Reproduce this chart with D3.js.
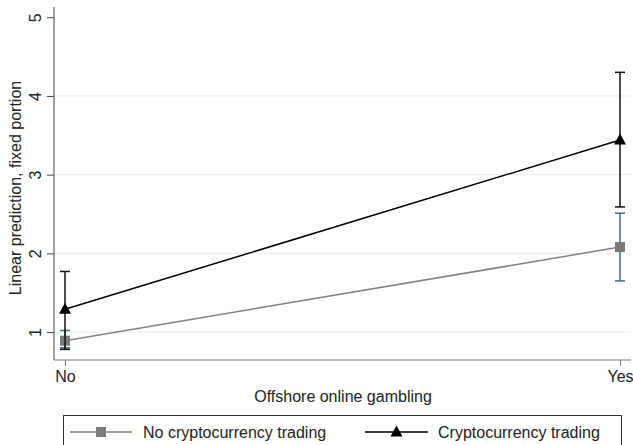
<!DOCTYPE html>
<html>
<head>
<meta charset="utf-8">
<script src="https://cdn.jsdelivr.net/npm/d3@7.9.0/dist/d3.min.js"></script>
<style>
  body { margin: 0; background: #fff; }
  text { font-family: "Liberation Sans", Arial, sans-serif; }
</style>
</head>
<body>
<svg id="chart" width="633" height="445"></svg>
<script>
const categories = ['No', 'Yes'];
const yTicks = [1, 2, 3, 4, 5];

const noCryptoMean = [0.89, 2.08];
const noCryptoLow = [0.80, 1.65];
const noCryptoHigh = [1.02, 2.51];

const cryptoMean = [1.29, 3.44];
const cryptoLow = [0.78, 2.59];
const cryptoHigh = [1.77, 4.30];

const series = [
  { name: 'No cryptocurrency trading', mean: noCryptoMean, low: noCryptoLow, high: noCryptoHigh,
    line: '#808080', ci: '#3f6a8a', marker: 'square', markerFill: '#7a7a7a' },
  { name: 'Cryptocurrency trading', mean: cryptoMean, low: cryptoLow, high: cryptoHigh,
    line: '#000', ci: '#111', marker: 'triangle', markerFill: '#000' }
];

const svg = d3.select('#chart');
const margin = { left: 54, right: 631, top: 7, bottom: 360 };

const x = d3.scalePoint()
  .domain(categories)
  .range([65, 620]);

const y = d3.scaleLinear()
  .domain([0.645, 5.13])
  .range([margin.bottom, margin.top]);

// gridlines
svg.append('g')
  .selectAll('line')
  .data(yTicks.slice(0, 4))
  .join('line')
  .attr('x1', margin.left)
  .attr('x2', margin.right)
  .attr('y1', d => y(d))
  .attr('y2', d => y(d))
  .attr('stroke', '#e4eff1')
  .attr('stroke-width', 1);

// y axis
const yAxis = svg.append('g')
  .attr('transform', `translate(${margin.left},0)`)
  .call(d3.axisLeft(y).tickValues(yTicks).tickSize(7).tickFormat(d3.format('d')));
yAxis.select('.domain').attr('stroke', '#444').attr('d', `M0,${margin.bottom}V${margin.top}`);
yAxis.selectAll('.tick line').attr('stroke', '#444');
yAxis.selectAll('.tick text')
  .style('font-size', '16px')
  .attr('fill', '#222')
  .attr('text-anchor', 'middle')
  .attr('x', 0)
  .attr('dy', null)
  .attr('y', 0)
  .attr('transform', 'translate(-13,0) rotate(-90)');

// x axis
const xAxis = svg.append('g')
  .attr('transform', `translate(0,${margin.bottom})`)
  .call(d3.axisBottom(x).tickSize(6).tickPadding(5));
xAxis.select('.domain').attr('stroke', '#777').attr('d', `M${margin.left},0H${margin.right}`);
xAxis.selectAll('.tick line').attr('stroke', '#777');
xAxis.selectAll('.tick text').style('font-size', '16px').attr('fill', '#222');

// axis titles
svg.append('text')
  .attr('x', 343)
  .attr('y', 402)
  .attr('text-anchor', 'middle')
  .attr('font-size', 16)
  .attr('fill', '#222')
  .text('Offshore online gambling');

svg.append('text')
  .attr('transform', 'translate(21,188) rotate(-90)')
  .attr('text-anchor', 'middle')
  .attr('font-size', 16)
  .attr('fill', '#222')
  .text('Linear prediction, fixed portion');

const line = d3.line()
  .x((d, i) => x(categories[i]))
  .y(d => y(d));

function drawMarker(g, type, cx, cy, fill) {
  if (type === 'square') {
    g.append('rect')
      .attr('x', cx - 5).attr('y', cy - 5)
      .attr('width', 10).attr('height', 10)
      .attr('fill', fill);
  } else {
    g.append('path')
      .attr('d', `M${cx},${cy - 6.5}L${cx + 6},${cy + 4.5}L${cx - 6},${cy + 4.5}Z`)
      .attr('fill', fill);
  }
}

series.forEach(s => {
  const g = svg.append('g');
  // connecting line
  g.append('path')
    .datum(s.mean)
    .attr('d', line)
    .attr('fill', 'none')
    .attr('stroke', s.line)
    .attr('stroke-width', 1.5);
  // error bars
  categories.forEach((c, i) => {
    const cx = x(c);
    g.append('line')
      .attr('x1', cx).attr('x2', cx)
      .attr('y1', y(s.low[i])).attr('y2', y(s.high[i]))
      .attr('stroke', s.ci).attr('stroke-width', 1.5);
    [s.low[i], s.high[i]].forEach(v => {
      g.append('line')
        .attr('x1', cx - 5).attr('x2', cx + 5)
        .attr('y1', y(v)).attr('y2', y(v))
        .attr('stroke', s.ci).attr('stroke-width', 1.5);
    });
  });
  categories.forEach((c, i) => drawMarker(g, s.marker, x(c), y(s.mean[i]), s.markerFill));
});

// legend
const legend = svg.append('g');
legend.append('rect')
  .attr('x', 63.5).attr('y', 415.5)
  .attr('width', 558).attr('height', 40)
  .attr('fill', '#fff')
  .attr('stroke', '#333')
  .attr('stroke-width', 1);

const legendItems = [
  { s: series[0], x1: 70, x2: 132, tx: 143 },
  { s: series[1], x1: 365, x2: 428, tx: 438 }
];
legendItems.forEach(it => {
  const ly = 432;
  legend.append('line')
    .attr('x1', it.x1).attr('x2', it.x2)
    .attr('y1', ly).attr('y2', ly)
    .attr('stroke', it.s.line).attr('stroke-width', 1.5);
  drawMarker(legend, it.s.marker, (it.x1 + it.x2) / 2, ly, it.s.markerFill);
  legend.append('text')
    .attr('x', it.tx).attr('y', ly + 6)
    .attr('font-size', 16)
    .attr('fill', '#222')
    .text(it.s.name);
});
</script>
</body>
</html>
